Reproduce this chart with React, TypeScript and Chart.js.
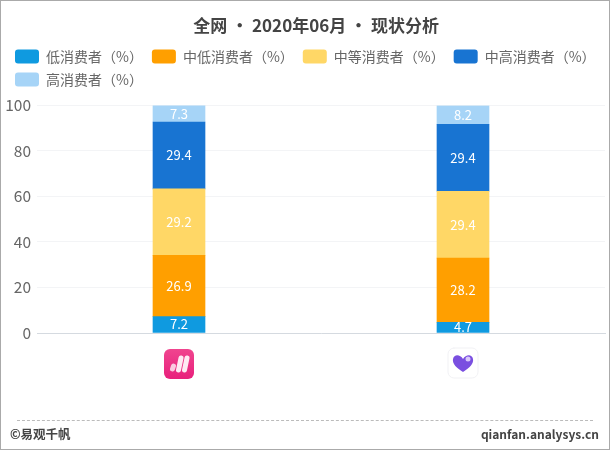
import React, { useEffect, useRef } from 'react';
import Chart from 'chart.js/auto';

const categories = ['App A', 'App B'];
const seriesNames = ['低消费者（%）', '中低消费者（%）', '中等消费者（%）', '中高消费者（%）', '高消费者（%）'];
const lowValues = [7.2, 4.7];
const midLowValues = [26.9, 28.2];
const midValues = [29.2, 29.4];
const midHighValues = [29.4, 29.4];
const highValues = [7.3, 8.2];
const seriesColors = ['#0f9ae0', '#ff9f00', '#ffd766', '#1874d2', '#a6d4f7'];
const yTicks = [0, 20, 40, 60, 80, 100];

const FONT = '"Noto Sans CJK SC", "Noto Sans", sans-serif';

// extra room between the legend and the plot
const legendGap = {
  id: 'legendGap',
  beforeInit(chart: any) {
    const fit = chart.legend.fit;
    chart.legend.fit = function () {
      fit.bind(this)();
      this.height += 9;
    };
  },
};

// white value labels in the middle of each segment
const barLabels = {
  id: 'barLabels',
  afterDatasetsDraw(chart: any) {
    const { ctx } = chart;
    ctx.save();
    ctx.fillStyle = '#fff';
    ctx.font = `13px ${FONT}`;
    ctx.textAlign = 'center';
    ctx.textBaseline = 'middle';
    chart.data.datasets.forEach((ds: any, i: number) => {
      chart.getDatasetMeta(i).data.forEach((bar: any, j: number) => {
        ctx.fillText(String(ds.data[j]), bar.x, (bar.y + bar.base) / 2);
      });
    });
    ctx.restore();
  },
};

// the two app icons stand in for the category labels
const appIcons = {
  id: 'appIcons',
  afterDraw(chart: any) {
    const { ctx, scales } = chart;
    const y = scales.x.bottom + 23;
    const x0 = scales.x.getPixelForTick(0);
    const x1 = scales.x.getPixelForTick(1);

    ctx.save();
    const grad = ctx.createLinearGradient(x0, y - 15, x0, y + 15);
    grad.addColorStop(0, '#f0458f');
    grad.addColorStop(1, '#e8207c');
    ctx.fillStyle = grad;
    ctx.beginPath();
    ctx.roundRect(x0 - 15, y - 15, 30, 30, 6);
    ctx.fill();
    ctx.strokeStyle = '#fff';
    ctx.lineCap = 'round';
    ctx.lineWidth = 5;
    ctx.globalAlpha = 0.75;
    ctx.beginPath();
    ctx.moveTo(x0 - 6.5, y + 5);
    ctx.lineTo(x0 - 5.5, y + 2);
    ctx.stroke();
    ctx.globalAlpha = 0.9;
    ctx.beginPath();
    ctx.moveTo(x0 - 0.5, y + 6);
    ctx.lineTo(x0 + 2, y - 6);
    ctx.stroke();
    ctx.beginPath();
    ctx.moveTo(x0 + 5.5, y + 6);
    ctx.lineTo(x0 + 8, y - 6);
    ctx.stroke();
    ctx.globalAlpha = 1;

    ctx.fillStyle = '#fff';
    ctx.strokeStyle = '#f1f1f4';
    ctx.lineWidth = 1;
    ctx.beginPath();
    ctx.roundRect(x1 - 15, y - 16, 30, 30, 6);
    ctx.fill();
    ctx.stroke();
    ctx.fillStyle = '#7a4fe0';
    ctx.beginPath();
    ctx.moveTo(x1, y + 8);
    ctx.bezierCurveTo(x1 - 6, y + 4, x1 - 11, y, x1 - 10, y - 5);
    ctx.bezierCurveTo(x1 - 9, y - 10, x1 - 3, y - 10, x1, y - 5);
    ctx.bezierCurveTo(x1 + 3, y - 10, x1 + 9, y - 10, x1 + 10, y - 5);
    ctx.bezierCurveTo(x1 + 11, y, x1 + 6, y + 4, x1, y + 8);
    ctx.fill();
    ctx.fillStyle = '#d9c8fa';
    ctx.beginPath();
    ctx.arc(x1 + 5, y - 5, 2.5, 0, Math.PI * 2);
    ctx.fill();
    ctx.restore();
  },
};

const App: React.FC = () => {
  const canvasRef = useRef<HTMLCanvasElement | null>(null);

  useEffect(() => {
    if (!canvasRef.current) return;
    const seriesValues = [lowValues, midLowValues, midValues, midHighValues, highValues];
    const chart = new Chart(canvasRef.current, {
      type: 'bar',
      data: {
        labels: categories,
        datasets: seriesNames.map((name, i) => ({
          label: name,
          data: seriesValues[i],
          backgroundColor: seriesColors[i],
          barThickness: 52,
        })),
      },
      plugins: [legendGap, barLabels, appIcons],
      options: {
        responsive: false,
        devicePixelRatio: 1,
        animation: false,
        layout: { padding: { left: 6, right: 5, top: 15, bottom: 109 } },
        plugins: {
          tooltip: { enabled: false },
          title: {
            display: true,
            // leading space pushes the title to the right of centre, as in the original
            text: '\u3000\u2005全网 • 2020年06月 • 现状分析',
            color: '#444',
            font: { family: FONT, size: 17, weight: 'bold' },
            padding: { top: 0, bottom: 5 },
          },
          legend: {
            position: 'top',
            align: 'start',
            labels: {
              boxWidth: 24,
              boxHeight: 14,
              useBorderRadius: true,
              borderRadius: 3,
              color: '#666',
              padding: 9,
              font: { family: FONT, size: 14 },
            },
          },
        },
        scales: {
          x: {
            stacked: true,
            grid: { display: false },
            border: { color: '#d5dae0' },
            ticks: { display: false },
          },
          y: {
            stacked: true,
            min: 0,
            max: 100,
            afterBuildTicks(axis: any) {
              axis.ticks = yTicks.map((value) => ({ value }));
            },
            afterFit(axis: any) {
              axis.width = 31;
            },
            grid: { color: '#f3f4f6', drawTicks: false },
            border: { display: false },
            ticks: { color: '#666', padding: 6, font: { family: FONT, size: 15.5 } },
          },
        },
      },
    });
    return () => chart.destroy();
  }, []);

  return (
    <div style={{ position: 'absolute', left: 0, top: 0, width: 610, height: 450, boxSizing: 'border-box', border: '1px solid #aaa', background: '#fff', fontFamily: FONT }}>
      <canvas ref={canvasRef} width={610} height={450} style={{ position: 'absolute', left: -1, top: -1 }} />
      <div style={{ position: 'absolute', left: 16, right: 16, top: 419, borderTop: '1px dashed #bbb' }} />
      <div style={{ position: 'absolute', left: 9, top: 423, fontSize: 12.5, fontWeight: 'bold', color: '#444' }}>©易观千帆</div>
      <div style={{ position: 'absolute', right: 10, top: 424, fontSize: 12, fontWeight: 'bold', color: '#444' }}>qianfan.analysys.cn</div>
    </div>
  );
};

export default App;
